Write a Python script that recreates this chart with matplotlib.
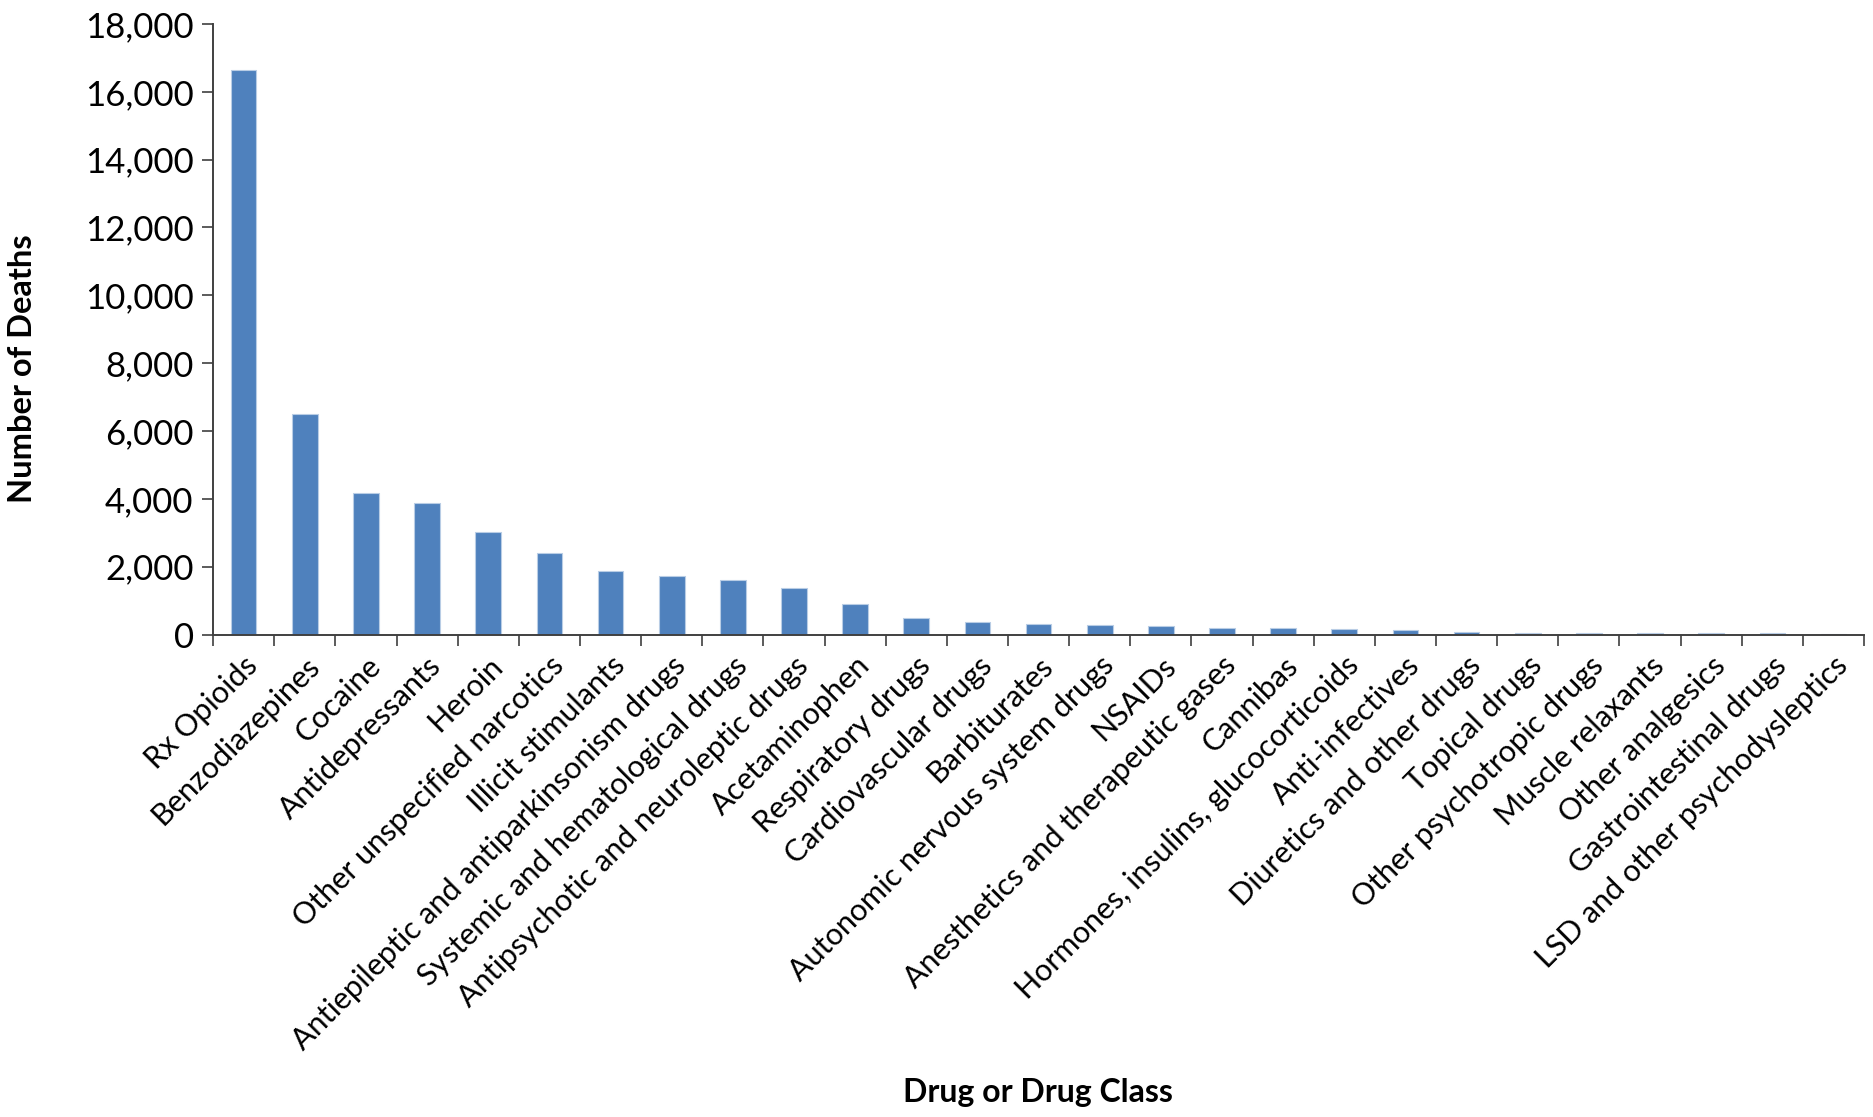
import numpy as np
import matplotlib.pyplot as plt
from matplotlib.ticker import FuncFormatter

drug_classes = [
    "Rx Opioids", "Benzodiazepines", "Cocaine", "Antidepressants", "Heroin",
    "Other unspecified narcotics", "Illicit stimulants",
    "Antiepileptic and antiparkinsonism drugs",
    "Systemic and hematological drugs",
    "Antipsychotic and neuroleptic drugs", "Acetaminophen",
    "Respiratory drugs", "Cardiovascular drugs", "Barbiturates",
    "Autonomic nervous system drugs", "NSAIDs",
    "Anesthetics and therapeutic gases", "Cannibas",
    "Hormones, insulins, glucocorticoids", "Anti-infectives",
    "Diuretics and other drugs", "Topical drugs",
    "Other psychotropic drugs", "Muscle relaxants", "Other analgesics",
    "Gastrointestinal drugs", "LSD and other psychodysleptics",
]
deaths = [
    16651, 6497, 4183, 3889, 3036, 2410, 1860, 1720, 1600, 1360, 890,
    500, 365, 320, 270, 240, 200, 200, 155, 130, 85, 55, 50, 45, 45, 35, 30,
]
y_ticks = np.arange(0, 18001, 2000)

plt.rcParams['font.family'] = ['Lato', 'DejaVu Sans']

fig = plt.figure(figsize=(18.74, 11.17), dpi=100)
ax = fig.add_axes([0.1137, 0.4319, 0.881, 0.5467])

x = np.arange(len(drug_classes))
ax.bar(x, deaths, width=0.42, color='#4F81BD', edgecolor='#B9CDE5', linewidth=0.8)

ax.set_xlim(-0.5, len(drug_classes) - 0.5)
ax.set_ylim(0, 18000)
ax.set_yticks(y_ticks)
ax.yaxis.set_major_formatter(FuncFormatter(lambda v, p: f"{int(v):,}"))

# category labels at bar centres, tick marks between categories
ax.set_xticks(x)
ax.set_xticklabels(drug_classes, rotation=45, ha='right', rotation_mode='anchor')
ax.set_xticks(np.arange(-0.5, len(drug_classes), 1), minor=True)
ax.tick_params(axis='x', which='major', length=0, pad=12, labelsize=22)
ax.tick_params(axis='x', which='minor', length=8, width=1.2, color='#404040')
ax.tick_params(axis='y', length=8, width=1.2, color='#404040', labelsize=25, pad=6)

for side in ('top', 'right'):
    ax.spines[side].set_visible(False)
for side in ('left', 'bottom'):
    ax.spines[side].set_color('#404040')
    ax.spines[side].set_linewidth(1.4)

fig.text(0.0118, 0.670, "Number of Deaths", fontsize=23.5, fontweight='bold',
         rotation=90, ha='center', va='center')
fig.text(0.5537, 0.0215, "Drug or Drug Class", fontsize=23, fontweight='bold',
         ha='center', va='center')

fig.savefig("out.png", dpi=100)
